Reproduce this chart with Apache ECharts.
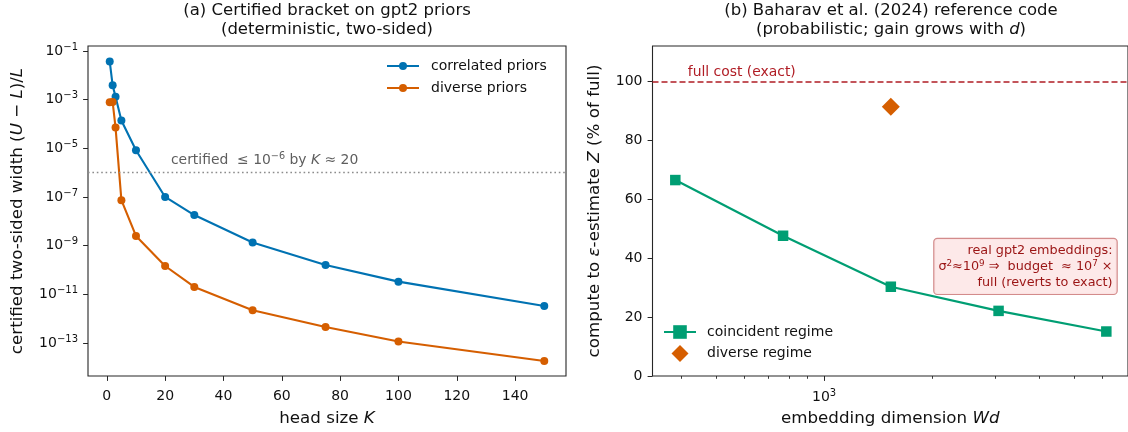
<!DOCTYPE html>
<html>
<head>
<meta charset="utf-8">
<script src="https://cdn.jsdelivr.net/npm/echarts@6/dist/echarts.min.js"></script>
<style>
  html, body { margin: 0; padding: 0; background: #fff; }
  #chart { width: 1128px; height: 432px; }
</style>
</head>
<body>
<div id="chart"></div>
<script>
// ---- (a) certified bracket width vs head size ----
const headSizes = [1, 2, 3, 5, 10, 20, 30, 50, 75, 100, 150];
const correlatedWidth = [3.7e-2, 3.9e-3, 1.3e-3, 1.4e-4, 8.3e-6, 1.0e-7, 1.8e-8, 1.35e-9, 1.6e-10, 3.3e-11, 3.3e-12];
const diverseWidth = [7.8e-4, 8.0e-4, 7.1e-5, 7.4e-8, 2.5e-9, 1.45e-10, 2.0e-11, 2.2e-12, 4.5e-13, 1.15e-13, 1.8e-14];
const certifiedLevel = 1e-6;
const headSizeTicks = [0, 20, 40, 60, 80, 100, 120, 140];
const widthTickExponents = [-13, -11, -9, -7, -5, -3, -1];

// ---- (b) compute fraction vs embedding dimension ----
const embedDims = [384, 768, 1536, 3072, 6144];
const coincidentCompute = [66.5, 47.6, 30.3, 22.1, 15.1];
const diverseDims = [1536];
const diverseCompute = [91.4];
const fullCost = 100;
const computeTicks = [0, 20, 40, 60, 80, 100];
const dimMajorTicks = [1000];
const dimMinorTicks = [400, 500, 600, 700, 800, 900, 2000, 3000, 4000, 5000, 6000];

const BLUE = '#0072B2', ORANGE = '#D55E00', GREEN = '#009E73';
const RED = '#b01c24', DARKRED = '#9a1414';
const INK = '#111111', FRAME = '#262626', NOTE = '#5e5e5e';
const FONT = 'DejaVu Sans';
const lg = Math.log10;

const supRich = {
  base: { fontSize: 14, lineHeight: 18, fontFamily: FONT, color: INK },
  sup: { fontSize: 10, lineHeight: 10, verticalAlign: 'top', fontFamily: FONT, color: INK }
};
const italicName = {
  n: { fontSize: 16.7, fontFamily: FONT, color: INK },
  i: { fontSize: 16.7, fontFamily: FONT, color: INK, fontStyle: 'italic' }
};
const tickStyle = { length: 4.9, lineStyle: { color: FRAME, width: 1 } };
const hiddenLine = { show: false, onZero: false };

const chart = echarts.init(document.getElementById('chart'), null, { renderer: 'canvas' });

const option = {
  animation: false,
  backgroundColor: '#ffffff',
  textStyle: { fontFamily: FONT },
  title: [
    {
      text: '(a) Certified bracket on gpt2 priors\n(deterministic, two-sided)',
      left: 327, top: 1.5, padding: 0, textAlign: 'center',
      textStyle: { fontSize: 16.5, fontWeight: 'normal', color: INK, lineHeight: 19, fontFamily: FONT }
    },
    {
      text: '{n|(b) Baharav et al. (2024) reference code}\n{n|(probabilistic; gain grows with }{i|d}{n|)}',
      left: 891, top: 1.5, padding: 0, textAlign: 'center',
      textStyle: {
        fontSize: 16.5, fontWeight: 'normal', color: INK, lineHeight: 19, fontFamily: FONT,
        rich: {
          n: { fontSize: 16.5, lineHeight: 19, fontFamily: FONT, color: INK },
          i: { fontSize: 16.5, lineHeight: 19, fontFamily: FONT, color: INK, fontStyle: 'italic' }
        }
      }
    }
  ],
  grid: [
    { left: 88, right: 562, top: 46, bottom: 55.5, show: true, borderColor: FRAME, borderWidth: 1.1, backgroundColor: 'transparent' },
    { left: 652.5, right: -2.5, top: 46, bottom: 55.5, show: true, borderColor: FRAME, borderWidth: 1.1, backgroundColor: 'transparent' }
  ],
  legend: [
    {
      data: ['correlated priors', 'diverse priors'],
      orient: 'vertical', left: 386, top: 59, padding: 0,
      itemWidth: 32, itemHeight: 10, itemGap: 8,
      textStyle: { fontSize: 14, color: INK, fontFamily: FONT, padding: [0, 0, 0, 7] }
    },
    {
      data: [
        { name: 'coincident regime' },
        { name: 'diverse regime', icon: 'path://M0,-1L1,0L0,1L-1,0Z' }
      ],
      orient: 'vertical', left: 663, top: 325, padding: 0,
      itemWidth: 32, itemHeight: 17, itemGap: 6,
      textStyle: { fontSize: 14, color: INK, fontFamily: FONT, padding: [0, 0, 0, 6] }
    }
  ],
  xAxis: [
    {
      type: 'value', gridIndex: 0, min: -6.45, max: 157.45, position: 'bottom',
      axisLine: hiddenLine, splitLine: { show: false },
      axisTick: Object.assign({ customValues: headSizeTicks }, tickStyle),
      axisLabel: { customValues: headSizeTicks, fontSize: 14, color: INK, margin: 13, fontFamily: FONT },
      name: '{n|head size }{i|K}', nameLocation: 'middle', nameGap: 34,
      nameTextStyle: { rich: italicName }
    },
    {
      type: 'value', gridIndex: 1, min: 2.5206, max: 3.849, position: 'bottom',
      axisLine: hiddenLine, splitLine: { show: false },
      axisTick: Object.assign({ customValues: dimMajorTicks.map(lg) }, tickStyle),
      axisLabel: {
        customValues: dimMajorTicks.map(lg), margin: 12,
        formatter: v => '{base|10}{sup|' + Math.round(v) + '}', rich: supRich
      },
      name: '{n|embedding dimension }{i|Wd}', nameLocation: 'middle', nameGap: 34,
      nameTextStyle: { rich: italicName }
    },
    {
      // minor decade ticks for the log-scaled dimension axis
      type: 'value', gridIndex: 1, min: 2.5206, max: 3.849, position: 'bottom',
      axisLine: hiddenLine, splitLine: { show: false },
      axisTick: { customValues: dimMinorTicks.map(lg), length: 2.8, lineStyle: { color: FRAME, width: 0.9 } },
      axisLabel: { show: false }
    }
  ],
  yAxis: [
    {
      type: 'value', gridIndex: 0, min: -14.36, max: -0.795, position: 'left',
      axisLine: hiddenLine, splitLine: { show: false },
      axisTick: Object.assign({ customValues: widthTickExponents }, tickStyle),
      axisLabel: {
        customValues: widthTickExponents, margin: 10,
        formatter: v => '{base|10}{sup|\u2212' + Math.abs(v) + '}', rich: supRich
      },
      name: '{n|certified two-sided width (}{i|U}{n| \u2212 }{i|L}{n|)/}{i|L}',
      nameLocation: 'middle', nameGap: 62,
      nameTextStyle: { rich: italicName }
    },
    {
      type: 'value', gridIndex: 1, min: 0, max: 112, position: 'left',
      axisLine: hiddenLine, splitLine: { show: false },
      axisTick: Object.assign({ customValues: computeTicks }, tickStyle),
      axisLabel: { customValues: computeTicks, fontSize: 14, color: INK, margin: 10, fontFamily: FONT },
      name: '{n|compute to }{i|\u03b5}{n|-estimate }{i|Z}{n| (% of full)}',
      nameLocation: 'middle', nameGap: 49,
      nameTextStyle: { rich: italicName }
    }
  ],
  series: [
    {
      name: 'correlated priors', type: 'line', xAxisIndex: 0, yAxisIndex: 0,
      data: headSizes.map((k, i) => [k, lg(correlatedWidth[i])]),
      symbol: 'circle', symbolSize: 8,
      itemStyle: { color: BLUE }, lineStyle: { color: BLUE, width: 2.1 },
      z: 3,
      markLine: {
        silent: true, symbol: 'none', label: { show: false },
        lineStyle: { color: '#8c8c8c', type: [1.6, 2.8], width: 1.4 },
        data: [{ yAxis: lg(certifiedLevel) }]
      }
    },
    {
      name: 'diverse priors', type: 'line', xAxisIndex: 0, yAxisIndex: 0,
      data: headSizes.map((k, i) => [k, lg(diverseWidth[i])]),
      symbol: 'circle', symbolSize: 8,
      itemStyle: { color: ORANGE }, lineStyle: { color: ORANGE, width: 2.1 },
      z: 3
    },
    {
      // note beside the certification threshold
      type: 'scatter', xAxisIndex: 0, yAxisIndex: 0, silent: true,
      data: [[22, -5.5]], symbolSize: 0, itemStyle: { opacity: 1 },
      label: {
        show: true, position: 'right', distance: 0, opacity: 1,
        formatter: '{t|certified  \u2264 10}{s|\u22126}{t| by }{i|K}{t| \u2248 20}',
        rich: {
          t: { fontSize: 13.9, color: NOTE, fontFamily: FONT, lineHeight: 17 },
          i: { fontSize: 13.9, color: NOTE, fontFamily: FONT, fontStyle: 'italic', lineHeight: 17 },
          s: { fontSize: 9.7, color: NOTE, fontFamily: FONT, verticalAlign: 'top', lineHeight: 10 }
        }
      }
    },
    {
      name: 'coincident regime', type: 'line', xAxisIndex: 1, yAxisIndex: 1,
      data: embedDims.map((d, i) => [lg(d), coincidentCompute[i]]),
      symbol: 'rect', symbolSize: 10.5,
      itemStyle: { color: GREEN }, lineStyle: { color: GREEN, width: 2.2 },
      z: 3,
      markLine: {
        silent: true, symbol: 'none', label: { show: false },
        lineStyle: { color: RED, type: [6, 3], width: 1.6 },
        data: [{ yAxis: fullCost }]
      }
    },
    {
      name: 'diverse regime', type: 'scatter', xAxisIndex: 1, yAxisIndex: 1,
      data: diverseDims.map((d, i) => [lg(d), diverseCompute[i]]),
      symbol: 'diamond', symbolSize: 18,
      itemStyle: { color: ORANGE, opacity: 1 },
      z: 4
    },
    {
      // label for the exact-cost reference line
      type: 'scatter', xAxisIndex: 1, yAxisIndex: 1, silent: true,
      data: [[lg(416), 103]], symbolSize: 0, itemStyle: { opacity: 1 },
      label: { show: true, position: 'right', distance: 0, opacity: 1, formatter: 'full cost (exact)', fontSize: 13.9, color: RED, fontFamily: FONT }
    },
    {
      // boxed note on real embeddings
      type: 'scatter', xAxisIndex: 1, yAxisIndex: 1, silent: true,
      data: [[3.8171, 37.2]], symbolSize: 0, itemStyle: { opacity: 1 },
      label: {
        show: true, position: 'left', distance: 0, align: 'right', opacity: 1,
        formatter: '{t|real gpt2 embeddings:}\n{t|\u03c3}{s|2}{t|\u224810}{s|9}{t| \u21d2  budget  \u2248 10}{s|7}{t| \u00d7}\n{t|full (reverts to exact)}',
        backgroundColor: 'rgba(253,232,232,0.95)', borderColor: '#d38b8b', borderWidth: 1.2, borderRadius: 3,
        padding: [4, 4, 3, 4],
        rich: {
          t: { fontSize: 12.8, color: DARKRED, fontFamily: FONT, lineHeight: 16, align: 'right' },
          s: { fontSize: 8.8, color: DARKRED, fontFamily: FONT, verticalAlign: 'top', lineHeight: 10, align: 'right' }
        }
      }
    }
  ]
};

chart.setOption(option);
</script>
</body>
</html>
